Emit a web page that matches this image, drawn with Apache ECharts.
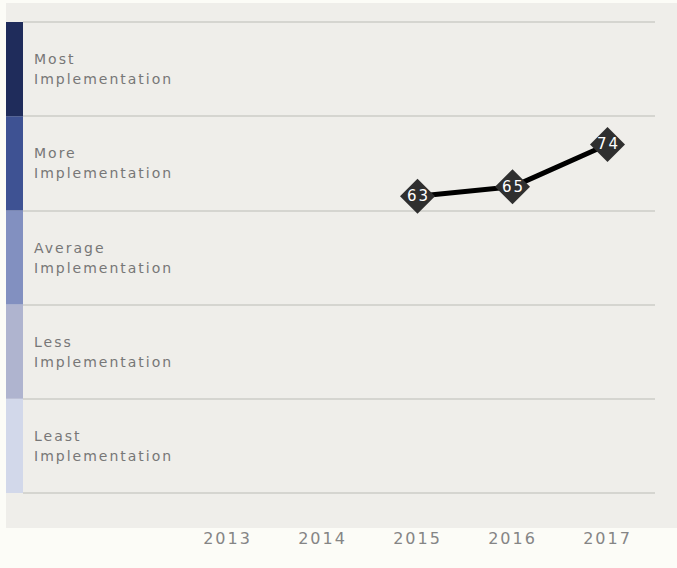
<!DOCTYPE html>
<html>
<head>
<meta charset="utf-8">
<script src="https://cdn.jsdelivr.net/npm/echarts@6/dist/echarts.min.js"></script>
<style>
  html, body { margin: 0; padding: 0; background: #fcfcf7; }
  #chart { width: 677px; height: 568px; }
  #chart text { letter-spacing: 2px; }
</style>
</head>
<body>
<div id="chart"></div>
<script>
// Data
const years = ['2013', '2014', '2015', '2016', '2017'];
const scores = [null, null, 63, 65, 74];
const levelLabels = ['Least\nImplementation', 'Less\nImplementation', 'Average\nImplementation', 'More\nImplementation', 'Most\nImplementation'];
const bandBounds = [0, 20, 40, 60, 80, 100];
const bandColors = ['#d2d8ea', '#afb4cf', '#8290c0', '#3e5293', '#1f2c5b'];

const chart = echarts.init(document.getElementById('chart'), null, { renderer: 'svg' });

const bandAreas = bandColors.map((c, i) => [
  { yAxis: bandBounds[i], itemStyle: { color: c } },
  { yAxis: bandBounds[i + 1] }
]);

const option = {
  backgroundColor: '#fcfcf7',
  animation: false,
  graphic: [{
    type: 'rect', z: -10, silent: true,
    shape: { x: 6, y: 3, width: 671, height: 525 },
    style: { fill: '#efeeea' }
  }],
  grid: [
    { left: 6, width: 17, top: 22, bottom: 75 },
    { left: 23, right: 22, top: 22, bottom: 75 },
    { left: 180, right: 22, top: 22, bottom: 75 }
  ],
  xAxis: [
    { gridIndex: 0, type: 'value', min: 0, max: 1, show: false },
    { gridIndex: 1, type: 'value', min: 0, max: 1, show: false },
    {
      gridIndex: 2, type: 'category', data: years, boundaryGap: true,
      axisLine: { show: false }, axisTick: { show: false },
      axisLabel: { color: '#858585', fontFamily: 'DejaVu Sans', fontSize: 16, margin: 37 }
    }
  ],
  yAxis: [
    { gridIndex: 0, type: 'value', min: 0, max: 100, show: false },
    {
      gridIndex: 1, type: 'category', data: levelLabels, boundaryGap: true,
      axisLine: { show: false }, axisTick: { show: false },
      axisLabel: {
        inside: true, margin: 11, color: '#777777', fontFamily: 'DejaVu Sans',
        fontSize: 14, lineHeight: 20, align: 'left'
      },
      splitLine: { show: true, lineStyle: { color: '#d5d5d0', width: 2 } }
    },
    { gridIndex: 2, type: 'value', min: 0, max: 100, show: false }
  ],
  series: [
    {
      type: 'line', xAxisIndex: 0, yAxisIndex: 0, data: [], silent: true,
      markArea: { silent: true, data: bandAreas }
    },
    {
      type: 'line', xAxisIndex: 2, yAxisIndex: 2, data: scores,
      lineStyle: { color: '#000000', width: 5 },
      symbol: 'diamond', symbolSize: 35,
      itemStyle: { color: '#2f2f2f' },
      label: {
        show: true, position: 'inside', color: '#ffffff',
        fontFamily: 'DejaVu Sans', fontSize: 15, offset: [1, 0]
      },
      z: 5
    }
  ]
};
chart.setOption(option);
</script>
</body>
</html>
